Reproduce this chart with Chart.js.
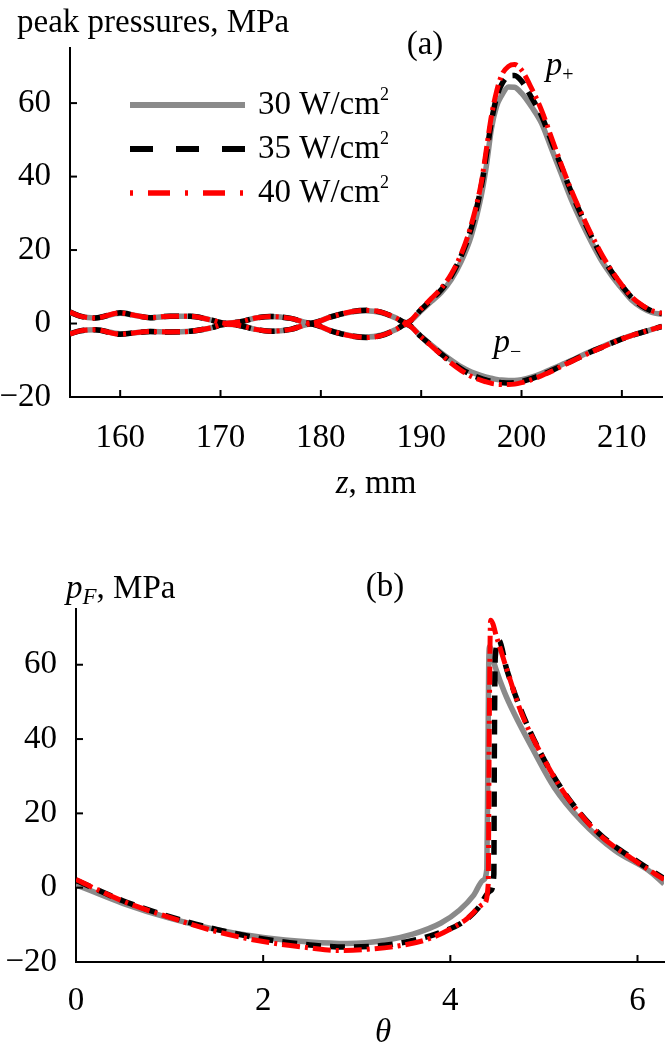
<!DOCTYPE html>
<html>
<head>
<meta charset="utf-8">
<script src="https://cdn.jsdelivr.net/npm/chart.js@4.4.1/dist/chart.umd.min.js"></script>
<style>
  html, body { margin: 0; padding: 0; background: #fff; }
  .panel { position: relative; width: 672px; height: 525px; }
</style>
</head>
<body>
<div class="panel"><canvas id="chartA"></canvas></div>
<div class="panel"><canvas id="chartB"></canvas></div>
<script>
// ---- panel (a): peak pressures along z ----
const zA = [155, 156, 157.5, 160, 161.5, 163, 165, 167, 169, 170.5, 172, 173.5, 175, 177, 179, 181, 183, 184.5, 186, 187.5, 188.5,
  190, 191, 192, 193, 194, 195, 196, 196.5, 197, 197.5, 198, 198.7, 199.3, 200, 201, 202, 203, 204, 205, 206, 207, 208, 209, 210, 211, 212, 213, 214];

const pPlus30 = [3.0, 2.0, 1.5, 2.8, 2.2, 1.6, 2.0, 2.0, 1.0, 0.1, 0.5, 1.5, 1.9, 1.4, 0.1, 1.8, 3.1, 3.5, 3.0, 1.5, 0.2,
  3.5, 6.0, 8.5, 12, 17, 24, 35, 43, 53, 59, 62, 64.4, 64.3, 62.7, 59, 54.5, 47.5, 40.5, 33.5, 27.5, 22, 17, 13, 9.5, 6.3, 4.3, 3.0, 2.5];
const pPlus35 = [3.1, 2.0, 1.5, 2.9, 2.2, 1.6, 2.0, 2.0, 1.0, 0.1, 0.5, 1.5, 1.9, 1.4, 0.1, 1.8, 3.2, 3.6, 3.1, 1.5, 0.2,
  3.8, 6.5, 9.2, 13, 18.5, 26, 37.5, 46, 55, 61.5, 65, 67.3, 67.5, 66, 61.5, 56.5, 49.5, 42.5, 35.5, 29.3, 23.5, 18.3, 14, 10.3, 7.0, 4.8, 3.4, 2.7];
const pPlus40 = [3.1, 2.0, 1.5, 2.9, 2.2, 1.6, 2.0, 2.0, 1.0, 0.1, 0.5, 1.5, 1.9, 1.4, 0.1, 1.8, 3.2, 3.6, 3.1, 1.5, 0.2,
  4.0, 6.8, 9.6, 13.5, 19, 27, 38.5, 47.5, 56.5, 63, 67.5, 70, 70.5, 69, 64, 58, 50.5, 43, 36, 29.8, 24, 18.8, 14.3, 10.5, 7.2, 5.0, 3.5, 2.8];

const pMinus30 = [-2.7, -2.0, -1.7, -2.8, -2.5, -2.2, -2.3, -2.1, -1.2, -0.2, -0.6, -1.6, -2.1, -1.6, -0.1, -2.0, -3.3, -3.7, -3.2, -1.6, -0.2,
  -3.5, -5.8, -8.0, -10, -11.8, -13.2, -14.2, -14.6, -14.9, -15.2, -15.4, -15.5, -15.5, -15.3, -14.6, -13.6, -12.4, -11.2, -10, -8.7, -7.5, -6.4, -5.2, -4.1, -3.2, -2.4, -1.6, -0.8];
const pMinus35 = [-2.8, -2.0, -1.7, -2.9, -2.5, -2.2, -2.3, -2.1, -1.2, -0.2, -0.6, -1.6, -2.1, -1.6, -0.1, -2.0, -3.4, -3.8, -3.3, -1.6, -0.2,
  -3.6, -6.0, -8.3, -10.5, -12.4, -13.9, -15.0, -15.4, -15.8, -16.0, -16.1, -16.2, -16.1, -15.8, -15.0, -14.0, -12.8, -11.5, -10.2, -8.9, -7.6, -6.5, -5.3, -4.2, -3.2, -2.4, -1.6, -0.8];
const pMinus40 = [-2.8, -2.0, -1.7, -2.9, -2.5, -2.2, -2.3, -2.1, -1.2, -0.2, -0.6, -1.6, -2.1, -1.6, -0.1, -2.0, -3.4, -3.8, -3.3, -1.6, -0.2,
  -3.7, -6.1, -8.5, -10.8, -12.8, -14.4, -15.5, -15.9, -16.3, -16.5, -16.6, -16.6, -16.5, -16.1, -15.3, -14.2, -13.0, -11.6, -10.3, -9.0, -7.7, -6.5, -5.3, -4.2, -3.2, -2.4, -1.6, -0.8];

// ---- panel (b): focal pressure vs theta ----
const th30 = [0, 0.5, 1.0, 1.5, 2.0, 2.5, 2.9, 3.3, 3.6, 3.9, 4.1, 4.25, 4.35, 4.39, 4.40, 4.41, 4.42, 4.45, 4.49, 4.58, 4.68, 4.87, 5.11, 5.4, 5.76, 6.12, 6.2832];
const pF30 = [0.8, -4.2, -8.2, -11.3, -13.4, -14.6, -15.0, -14.2, -12.5, -9.5, -6.0, -2.0, 2.0, 5.0, 30, 60, 64.9, 62, 58.6, 52.5, 47, 37.8, 27, 18, 10, 4.6, 1.0];

const th35 = [0, 0.5, 1.0, 1.5, 2.0, 2.5, 2.9, 3.3, 3.6, 3.9, 4.15, 4.3, 4.43, 4.465, 4.47, 4.48, 4.52, 4.6, 4.76, 4.97, 5.22, 5.58, 5.97, 6.2832];
const pF35 = [2.0, -3.5, -7.8, -11.2, -13.8, -15.4, -16.0, -15.5, -14.2, -12.0, -9.0, -5.4, -0.8, 3.6, 35, 62, 66.5, 59, 47.5, 36, 25.5, 14.8, 7.5, 2.5];

const th40 = [0, 0.5, 1.0, 1.5, 2.0, 2.5, 2.8, 3.1, 3.44, 3.8, 4.15, 4.36, 4.405, 4.415, 4.43, 4.5, 4.6, 4.76, 4.97, 5.22, 5.58, 5.97, 6.2832];
const pF40 = [2.2, -3.6, -8.0, -11.8, -14.5, -16.2, -16.9, -16.6, -15.7, -13.5, -8.9, -4.3, 1.0, 40, 72, 67, 59, 47, 36, 25.4, 14.6, 7.3, 2.2];

const legendLabels = ['30 W/cm²', '35 W/cm²', '40 W/cm²'];
const xTicksA = { min: 155, max: 214, step: 10 };
const xTicksB = { min: 0, max: 2 * Math.PI, step: 2 };
const yTicks = { min: -20, max: 75, step: 20 };

const serif = '"Liberation Serif", "Times New Roman", serif';
const FS = 33;
const STYLE = [
  { color: '#8a8a8a', width: 5.5, dash: [], legendDash: [], order: 2 },
  { color: '#000000', width: 5.5, dash: [15, 9], legendDash: [23, 23], order: 1 },
  { color: '#ff0000', width: 5, dash: [18, 5, 3, 5], legendDash: [3, 15, 22, 15], order: 0 }
];

const pts = (xs, ys) => xs.map((x, i) => ({ x, y: ys[i] }));

function series(xs, ys, k, legend) {
  const s = STYLE[k];
  return {
    data: pts(xs, ys),
    borderColor: s.color,
    borderWidth: s.width,
    borderDash: s.dash,
    pointRadius: 0,
    cubicInterpolationMode: 'monotone',
    fill: false,
    order: s.order,
    legendText: legend ? legendLabels[k] : null,
    legendDash: s.legendDash
  };
}

function minus(v) { return v < 0 ? '\u2212' + Math.abs(v) : String(v); }

// draw a line of text made of runs (italic / subscript / superscript)
function drawRuns(ctx, x, y, runs, size, align) {
  const parts = runs.map(r => {
    const sz = r.sub || r.sup ? Math.round(size * (r.k || 0.62)) : size;
    const font = (r.it ? 'italic ' : '') + sz + 'px ' + serif;
    ctx.font = font;
    return { r, font, w: ctx.measureText(r.t).width, dy: r.sub ? size * 0.28 : r.sup ? -size * 0.3 : 0 };
  });
  const total = parts.reduce((a, p) => a + p.w, 0);
  let cx = align === 'center' ? x - total / 2 : x;
  ctx.textBaseline = 'middle';
  ctx.textAlign = 'left';
  ctx.fillStyle = '#000';
  parts.forEach(p => {
    ctx.font = p.font;
    ctx.fillText(p.r.t, cx, y + p.dy);
    cx += p.w;
  });
}

const innerTicks = {
  id: 'innerTicks',
  afterDraw(chart) {
    const { ctx, chartArea, scales } = chart;
    ctx.save();
    ctx.strokeStyle = '#000';
    ctx.lineWidth = 2;
    ctx.setLineDash([]);
    scales.x.ticks.forEach((t, i) => {
      const px = scales.x.getPixelForTick(i);
      if (Math.abs(px - chartArea.left) < 2) return;
      ctx.beginPath();
      ctx.moveTo(px, chartArea.bottom);
      ctx.lineTo(px, chartArea.bottom - 7);
      ctx.stroke();
    });
    scales.y.ticks.forEach((t, i) => {
      const py = scales.y.getPixelForTick(i);
      if (Math.abs(py - chartArea.bottom) < 2) return;
      ctx.beginPath();
      ctx.moveTo(chartArea.left, py);
      ctx.lineTo(chartArea.left + 7, py);
      ctx.stroke();
    });
    ctx.restore();
  }
};

const lineLegend = {
  id: 'lineLegend',
  afterDraw(chart, args, opts) {
    if (!opts.show) return;
    const { ctx, chartArea } = chart;
    const items = chart.data.datasets.filter(d => d.legendText);
    items.sort((a, b) => legendLabels.indexOf(a.legendText) - legendLabels.indexOf(b.legendText));
    ctx.save();
    items.forEach((d, i) => {
      const y = opts.top + i * opts.gap;
      const x0 = chartArea.left + opts.left;
      ctx.strokeStyle = d.borderColor;
      ctx.lineWidth = d.borderWidth + 0.5;
      ctx.setLineDash(d.legendDash);
      ctx.beginPath();
      ctx.moveTo(x0, y);
      ctx.lineTo(x0 + opts.len, y);
      ctx.stroke();
      const txt = d.legendText.replace('²', '');
      drawRuns(ctx, x0 + opts.len + 13, y, [{ t: txt }, { t: '2', sup: true, k: 0.55 }], FS, 'left');
    });
    ctx.restore();
  }
};

const labelsPlugin = {
  id: 'panelLabels',
  afterDraw(chart, args, opts) {
    const { ctx, scales } = chart;
    ctx.save();
    opts.items.forEach(it => {
      const x = it.zx !== undefined ? scales.x.getPixelForValue(it.zx) : it.x;
      const y = it.zy !== undefined ? scales.y.getPixelForValue(it.zy) : it.y;
      drawRuns(ctx, x, y, it.runs, it.size || FS, it.align || 'left');
    });
    ctx.restore();
  }
};

function axisOpts(rng, size) {
  return {
    type: 'linear',
    min: rng.min,
    max: rng.max,
    grid: { display: false },
    border: { display: true, color: '#000', width: 2 },
    ticks: {
      stepSize: rng.step,
      includeBounds: false,
      color: '#000',
      font: { family: serif, size: FS },
      maxRotation: 0,
      autoSkip: false,
      callback: v => minus(v)
    },
    afterFit: s => { if (s.isHorizontal()) s.height = size; else s.width = size; }
  };
}

function makeChart(id, datasets, cfg) {
  const x = axisOpts(cfg.xr, cfg.xh);
  x.ticks.padding = cfg.xpad;
  const y = axisOpts(yTicks, cfg.yw);
  y.ticks.padding = 11;
  return new Chart(document.getElementById(id), {
    type: 'line',
    data: { datasets },
    options: {
      responsive: true,
      maintainAspectRatio: false,
      animation: false,
      layout: { padding: cfg.pad },
      scales: { x, y },
      plugins: {
        legend: { display: false },
        tooltip: { enabled: false },
        lineLegend: cfg.legend || { show: false },
        panelLabels: { items: cfg.labels }
      }
    },
    plugins: [innerTicks, lineLegend, labelsPlugin]
  });
}

makeChart('chartA', [
  series(zA, pPlus30, 0, true), series(zA, pMinus30, 0, false),
  series(zA, pPlus35, 1, true), series(zA, pMinus35, 1, false),
  series(zA, pPlus40, 2, true), series(zA, pMinus40, 2, false)
], {
  xr: xTicksA, xh: 128, yw: 70, xpad: 14,
  pad: { top: 48, right: 10, left: 0, bottom: 0 },
  legend: { show: true, left: 60, len: 115, top: 105, gap: 44 },
  labels: [
    { x: 17, y: 23, runs: [{ t: 'peak pressures, MPa' }] },
    { x: 425, y: 45, runs: [{ t: '(a)' }], align: 'center' },
    { zx: 203.8, zy: 70, runs: [{ t: 'p', it: true }, { t: '+', sub: true }], align: 'center' },
    { zx: 198.6, zy: -5.5, runs: [{ t: 'p', it: true }, { t: '\u2212', sub: true }], align: 'center' },
    { x: 376, y: 484, runs: [{ t: 'z', it: true }, { t: ', mm' }], align: 'center' }
  ]
});

makeChart('chartB', [
  series(th30, pF30, 0, false),
  series(th35, pF35, 1, false),
  series(th40, pF40, 2, false)
], {
  xr: xTicksB, xh: 88, yw: 76, xpad: 12,
  pad: { top: 84, right: 8, left: 0, bottom: 0 },
  labels: [
    { x: 66, y: 64, runs: [{ t: 'p', it: true }, { t: 'F', it: true, sub: true, k: 0.7 }, { t: ', MPa' }] },
    { x: 385, y: 62, runs: [{ t: '(b)' }], align: 'center' },
    { x: 383, y: 508, runs: [{ t: '\u03b8', it: true }], align: 'center' }
  ]
});
</script>
</body>
</html>
